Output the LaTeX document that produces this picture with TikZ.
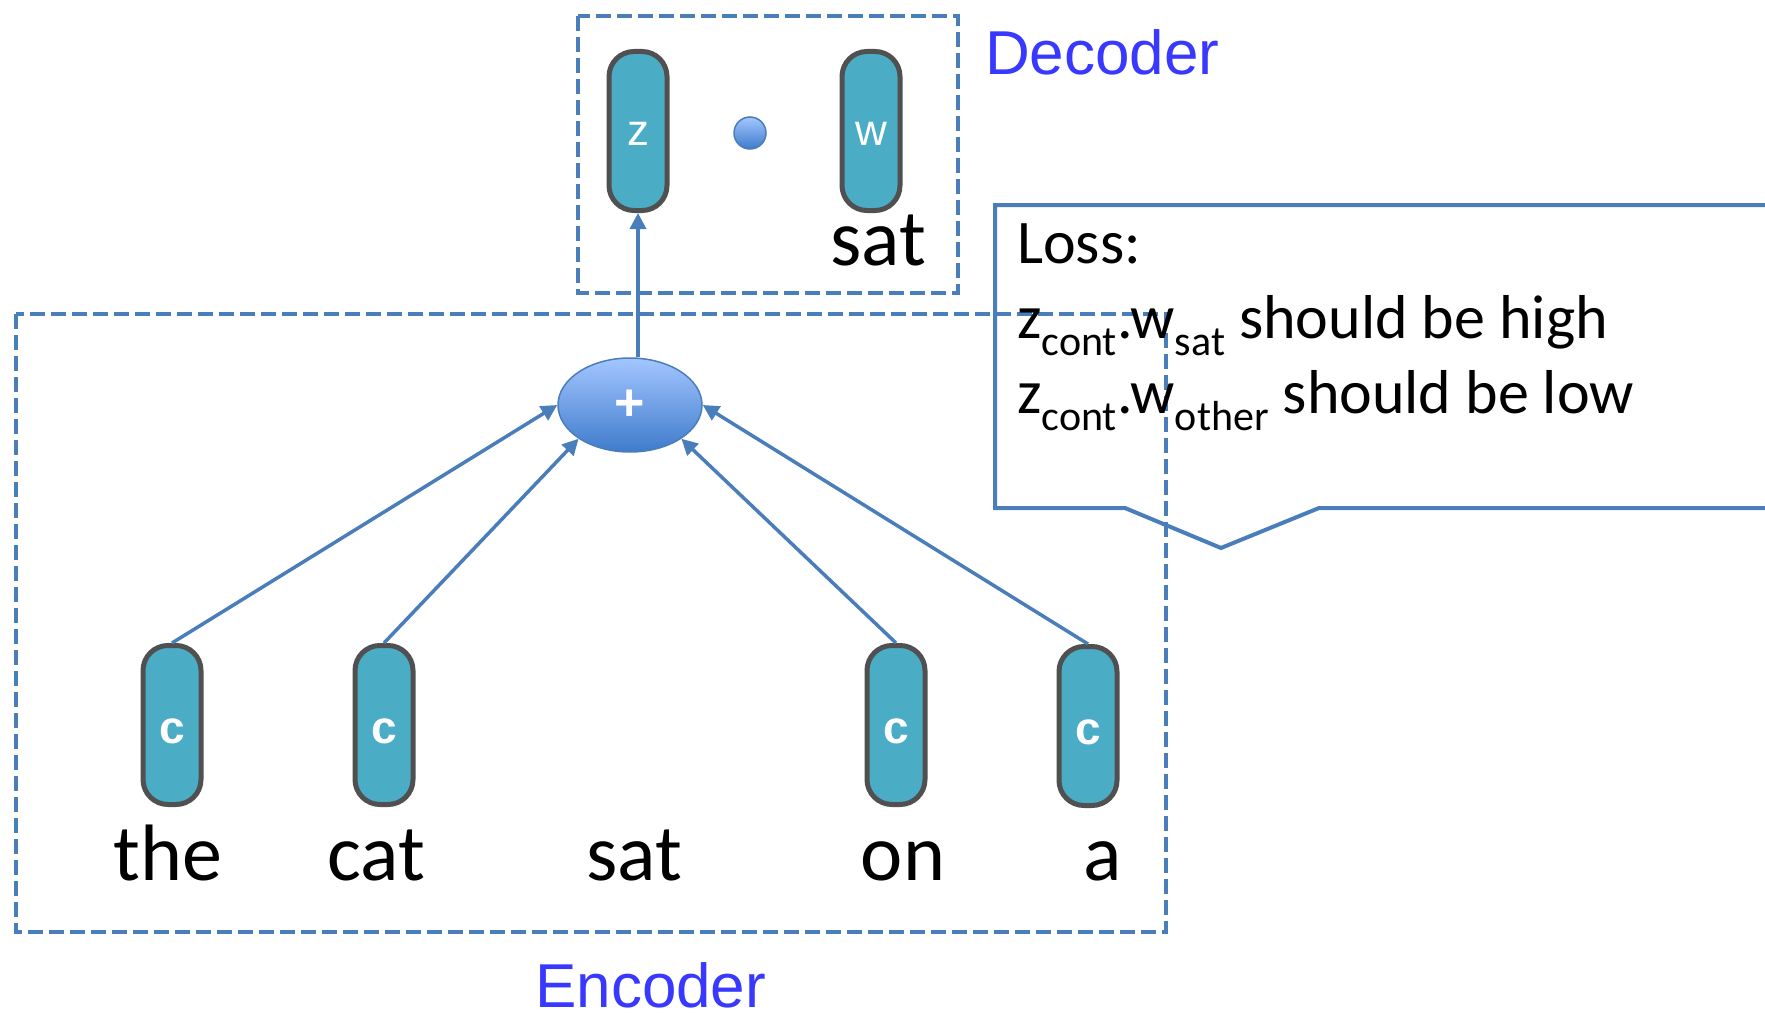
\documentclass[tikz,border=0pt]{standalone}
\usepackage{fontspec}
\setmainfont{Carlito}
\newfontfamily\pillfont{Liberation Sans}
\usetikzlibrary{shapes.geometric,arrows.meta}

\definecolor{edge}{HTML}{4A7EBB}
\definecolor{pillfill}{HTML}{4BACC6}
\definecolor{pillrim}{HTML}{505050}
\definecolor{boxlabel}{HTML}{3838FF}
\definecolor{ballhi}{HTML}{A3C6FF}
\definecolor{balllo}{HTML}{3F7BCB}

% lowered subscript in the loss text
\newcommand\losssub[1]{\raisebox{-17pt}{\fontsize{42}{42}\selectfont #1}}

\begin{document}
\begin{tikzpicture}[x=1pt,y=-1pt,
  vec/.style={rectangle, rounded corners=25pt, minimum width=58pt,
    minimum height=159pt, inner sep=0pt, fill=pillfill, draw=pillrim,
    line width=5pt, text=white},
  veclabel/.style={font=\pillfont\fontsize{44}{44}\selectfont},
  ctxlabel/.style={font=\pillfont\bfseries\fontsize{46}{46}\selectfont},
  frame/.style={draw=edge, line width=4pt, dash pattern=on 15pt off 6pt},
  arr/.style={draw=edge, line width=3.5pt, -{Triangle[length=16pt,width=16pt]}},
  word/.style={font=\fontsize{80}{84}\selectfont, anchor=base, inner sep=0pt},
  title/.style={font=\pillfont\fontsize{62}{62}\selectfont, text=boxlabel, anchor=base west, inner sep=0pt},
  losstext/.style={font=\fontsize{62}{62}\selectfont, anchor=base west, inner sep=0pt},
  ball/.style={shape=ellipse, inner sep=0pt, top color=ballhi, bottom color=balllo,
    draw=edge, line width=1.5pt}
]
\useasboundingbox (0,0) rectangle (1765,1014);

% encoder and decoder frames
\draw[frame] (16,314) rectangle (1166,932);
\draw[frame] (578,16) rectangle (958,293);
\node[title] (dectitle) at (985,75) {Decoder};
\node[title] (enctitle) at (535,1007) {Encoder};

% decoder vectors
\node[vec] (z) at (638,131) {};
\node[veclabel, text=white] (zl) at (638,134) {z};
\node[vec] (w) at (871,131) {};
\node[veclabel, text=white] (wl) at (871,134) {w};
\node[ball, minimum width=32pt, minimum height=32pt] (dot) at (750,133) {};
\node[word] (satw) at (878,265) {sat};

% sum node
\node[ball, minimum width=144pt, minimum height=94pt, text=white,
  font=\pillfont\bfseries\fontsize{52}{52}\selectfont] (plus) at (630,405) {+};

% context vectors
\node[vec] (c1) at (172,725) {};
\node[vec] (c2) at (384,725) {};
\node[vec] (c4) at (896,725) {};
\node[vec] (c5) at (1088,726) {};
\foreach \n in {c1,c2,c4,c5}
  \node[ctxlabel, text=white] at ([yshift=-6pt]\n.center) {c};

% input words
\node[word] (the) at (168,880) {the};
\node[word] (cat) at (376,880) {cat};
\node[word] (sat) at (634,880) {sat};
\node[word] (on)  at (903,880) {on};
\node[word] (a)   at (1103,880) {a};

% connectors
\draw[arr] (c1.north) -- (plus.west);
\draw[arr] (c2.north) -- (plus.south west);
\draw[arr] (c4.north) -- (plus.south east);
\draw[arr] (c5.north) -- (plus.east);
\draw[arr] (plus.north -| z.south) -- (z.south);

% loss callout
\draw[edge, line width=4pt, line join=miter]
  (1770,205) -- (995,205) -- (995,508) -- (1125,508) -- (1221,548)
  -- (1319,508) -- (1770,508);
\node[losstext] (loss1) at (1017,263) {Loss:};
\node[losstext] (loss2) at (1017,338)
  {z\losssub{cont}.w\losssub{sat} should be high};
\node[losstext] (loss3) at (1017,413)
  {z\losssub{cont}.w\losssub{other} should be low};
\end{tikzpicture}
\end{document}
